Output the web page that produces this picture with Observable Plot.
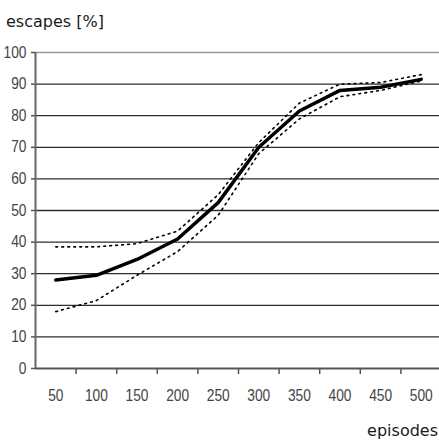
<!DOCTYPE html>
<html>
<head>
<meta charset="utf-8">
<script src="https://cdn.jsdelivr.net/npm/d3@7"></script>
<script src="https://cdn.jsdelivr.net/npm/@observablehq/plot@0.6"></script>
<style>
  html, body { margin: 0; padding: 0; background: white; }
  #wrap { position: relative; width: 439px; height: 443px; overflow: hidden; }
  .lbl { position: absolute; font-family: "DejaVu Sans", Verdana, sans-serif; font-size: 16px; line-height: 16px; color: #1a1a1a; white-space: nowrap; }
  #title { left: 6px; top: 14px; }
  #xlabel { right: 1px; top: 423px; }
</style>
</head>
<body>
<div id="wrap">
  <div id="chart"></div>
  <div class="lbl" id="title">escapes [%]</div>
  <div class="lbl" id="xlabel">episodes</div>
</div>
<script>
const episodes = [50, 100, 150, 200, 250, 300, 350, 400, 450, 500];
const meanEscapes = [28, 29.5, 34.5, 41, 52.5, 70, 81.5, 88, 89, 91.5];
const upperEscapes = [38.5, 38.5, 39.5, 43.5, 55, 71.5, 84, 90, 90.5, 93];
const lowerEscapes = [18, 21.5, 29.5, 37, 48.5, 68, 79, 86, 88, 91];
const yTicks = [0, 10, 20, 30, 40, 50, 60, 70, 80, 90, 100];

const data = episodes.map((e, i) => ({
  episode: e, mean: meanEscapes[i], upper: upperEscapes[i], lower: lowerEscapes[i]
}));
const half = (episodes[1] - episodes[0]) / 2;
const bounds = episodes.map(e => e - half).concat([episodes[episodes.length - 1] + half]);

const chart = Plot.plot({
  width: 439,
  height: 443,
  marginLeft: 35,
  marginRight: 0,
  marginTop: 52,
  marginBottom: 75,
  style: { fontFamily: "'Liberation Sans', Arial, sans-serif", fontSize: "16px", color: "#444", background: "white", overflow: "visible" },
  x: { domain: [bounds[0], bounds[bounds.length - 1]], range: [35, 441] },
  y: { domain: [yTicks[0], yTicks[yTicks.length - 1]] },
  marks: [
    Plot.gridY(yTicks.slice(1, -1), { stroke: "#2e2e2e", strokeOpacity: 1, strokeWidth: 1.3 }),
    Plot.ruleY([yTicks[yTicks.length - 1]], { stroke: "#9a9a9a", strokeWidth: 1.5 }),
    Plot.ruleY([yTicks[0]], { stroke: "#555", strokeWidth: 2 }),
    Plot.ruleX([bounds[0]], { stroke: "#666", strokeWidth: 2 }),
    Plot.axisY(yTicks, { tickSize: 4, tickPadding: 5, label: null, stroke: "#555", strokeWidth: 1.5 }),
    Plot.axisX(bounds.slice(1, -1), { tickSize: 6, tickFormat: () => "", label: null, stroke: "#555", strokeWidth: 1.5 }),
    Plot.axisX(episodes, { tickSize: 0, tickPadding: 21, label: null }),
    Plot.line(data, { x: "episode", y: "upper", stroke: "black", strokeWidth: 1.6, strokeDasharray: "1.8,4.2" }),
    Plot.line(data, { x: "episode", y: "lower", stroke: "black", strokeWidth: 1.6, strokeDasharray: "1.8,4.2" }),
    Plot.line(data, { x: "episode", y: "mean", stroke: "black", strokeWidth: 3.5 })
  ]
});
// narrow the tick-label glyphs (condensed look of the original)
d3.select(chart)
  .selectAll('g[aria-label="y-axis tick label"] text, g[aria-label="x-axis tick label"] text')
  .each(function () {
    const t = this.getAttribute("transform") || "";
    this.setAttribute("transform", t + " scale(0.86,1)");
  });
document.getElementById("chart").append(chart);
</script>
</body>
</html>
